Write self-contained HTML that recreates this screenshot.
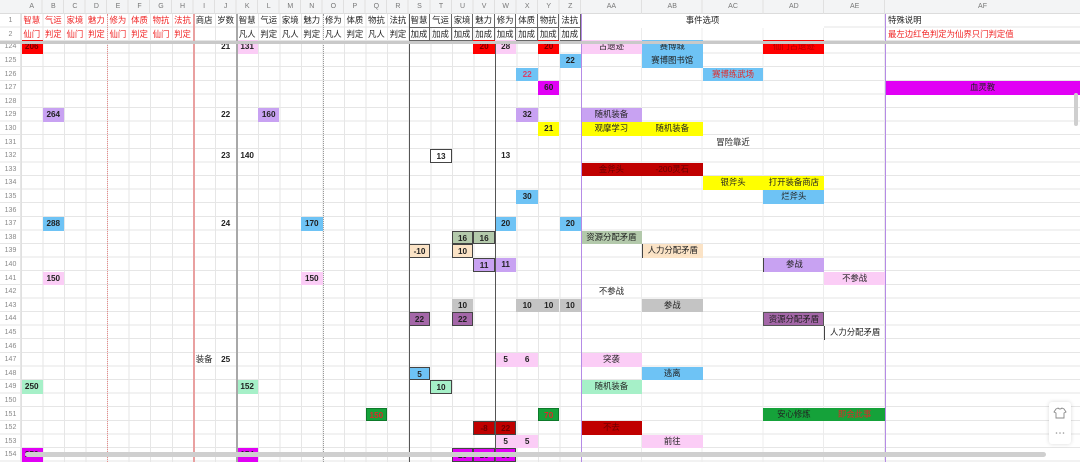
<!DOCTYPE html>
<html><head><meta charset="utf-8">
<style>
*{margin:0;padding:0}
body{width:1080px;height:462px;overflow:hidden;background:#fff;position:relative;font-family:"Liberation Sans","Noto Sans CJK SC",sans-serif;}
.abs{position:absolute}
.c{position:absolute;height:13.6px;line-height:13.6px;text-align:center;font-size:8.4px;color:#222;box-sizing:border-box;white-space:nowrap;overflow:hidden}
.n{font-weight:bold;font-size:8.2px;font-family:"Liberation Sans",sans-serif}
.h1{top:14px;height:13.5px;line-height:13.5px}
.h2{top:27.5px;height:13.5px;line-height:13.5px}
.rd{color:#f02424}
.rn{position:absolute;left:0;width:21px;height:13.6px;line-height:13.6px;text-align:center;font-size:7px;color:#888}
.cl{position:absolute;top:0;height:14px;line-height:14px;text-align:center;font-size:7px;color:#777}
.bx{border:1px solid #444}
.A{left:21px;width:21.54px}.B{left:42.54px;width:21.54px}.C{left:64.08px;width:21.54px}.D{left:85.62px;width:21.54px}
.E{left:107.16px;width:21.54px}.F{left:128.7px;width:21.54px}.G{left:150.24px;width:21.54px}.H{left:171.78px;width:21.54px}
.I{left:193.32px;width:21.54px}.J{left:214.86px;width:21.54px}.K{left:236.4px;width:21.54px}.L{left:257.94px;width:21.54px}
.M{left:279.48px;width:21.54px}.N{left:301.02px;width:21.54px}.O{left:322.56px;width:21.54px}.P{left:344.1px;width:21.54px}
.Q{left:365.64px;width:21.54px}.R{left:387.18px;width:21.54px}.S{left:408.72px;width:21.54px}.T{left:430.26px;width:21.54px}
.U{left:451.8px;width:21.54px}.V{left:473.34px;width:21.54px}.W{left:494.88px;width:21.54px}.X{left:516.42px;width:21.54px}
.Y{left:537.96px;width:21.54px}.Z{left:559.5px;width:21.54px}
.AA{left:581.04px;width:60.8px}.AB{left:641.84px;width:60.8px}.AC{left:702.64px;width:60.8px}.AD{left:763.44px;width:60.8px}
.AE{left:824.24px;width:60.8px}.AF{left:885.04px;width:195px}
.r124{top:40.4px}.r125{top:54px}.r126{top:67.6px}.r127{top:81.2px}.r128{top:94.8px}.r129{top:108.4px}.r130{top:122px}
.r131{top:135.6px}.r132{top:149.2px}.r133{top:162.8px}.r134{top:176.4px}.r135{top:190px}.r136{top:203.6px}.r137{top:217.2px}
.r138{top:230.8px}.r139{top:244.4px}.r140{top:258px}.r141{top:271.6px}.r142{top:285.2px}.r143{top:298.8px}.r144{top:312.4px}
.r145{top:326px}.r146{top:339.6px}.r147{top:353.2px}.r148{top:366.8px}.r149{top:380.4px}.r150{top:394px}.r151{top:407.6px}
.r152{top:421.2px}.r153{top:434.8px}.r154{top:448.4px}
.red{background:#ff0000;color:#700}
.dred{background:#c00000;color:#6a0000}
.pk{background:#fbcdf6}
.bl{background:#6ec3f5}
.pu{background:#c8a2f2}
.mg{background:#e100f5}
.ye{background:#ffff00}
.sg{background:#b3c9ab}
.pe{background:#fbe3c6}
.gy{background:#c4c4c4}
.dp{background:#a467a8}
.mt{background:#a6f0c8}
.gr{background:#15a23a}
.tr{color:#e02828}
.hb{border-right:1px solid #666;border-bottom:1px solid #666}
</style></head><body>

<!-- column letter header -->
<div class="abs" style="left:0;top:0;width:1080px;height:14px;background:#f3f4f5;border-bottom:1px solid #dcdcdc;box-sizing:border-box"></div>
<div class="abs" style="left:21px;top:0;width:560px;height:14px;background:repeating-linear-gradient(to right,transparent 0,transparent 20.54px,#e0e0e0 20.54px,#e0e0e0 21.54px)"></div>
<div class="abs" style="left:581px;top:0;width:304px;height:14px;background:repeating-linear-gradient(to right,transparent 0,transparent 59.8px,#e0e0e0 59.8px,#e0e0e0 60.8px)"></div>
<div class="cl A">A</div><div class="cl B">B</div><div class="cl C">C</div><div class="cl D">D</div><div class="cl E">E</div><div class="cl F">F</div><div class="cl G">G</div><div class="cl H">H</div><div class="cl I">I</div><div class="cl J">J</div><div class="cl K">K</div><div class="cl L">L</div><div class="cl M">M</div><div class="cl N">N</div><div class="cl O">O</div><div class="cl P">P</div><div class="cl Q">Q</div><div class="cl R">R</div><div class="cl S">S</div><div class="cl T">T</div><div class="cl U">U</div><div class="cl V">V</div><div class="cl W">W</div><div class="cl X">X</div><div class="cl Y">Y</div><div class="cl Z">Z</div><div class="cl AA">AA</div><div class="cl AB">AB</div><div class="cl AC">AC</div><div class="cl AD">AD</div><div class="cl AE">AE</div><div class="cl AF">AF</div>

<!-- grid lines -->
<div class="abs" style="left:0;top:14px;width:1080px;height:27px;background:repeating-linear-gradient(to bottom,transparent 0,transparent 12.5px,#e6e6e6 12.5px,#e6e6e6 13.5px)"></div>
<div class="abs" style="left:0;top:40.4px;width:1080px;height:422px;background:repeating-linear-gradient(to bottom,transparent 0,transparent 12.6px,#e6e6e6 12.6px,#e6e6e6 13.6px)"></div>
<div class="abs" style="left:20px;top:14px;width:561px;height:448px;background:repeating-linear-gradient(to right,#e6e6e6 0,#e6e6e6 1px,transparent 1px,transparent 21.54px);background-position:1px 0"></div>
<div class="abs" style="left:581px;top:14px;width:304px;height:448px;background:repeating-linear-gradient(to right,transparent 0,transparent 59.8px,#ececec 59.8px,#ececec 60.8px)"></div>

<!-- row numbers -->
<div class="rn h1">1</div><div class="rn h2">2</div>
<div class="rn r124">124</div><div class="rn r125">125</div><div class="rn r126">126</div><div class="rn r127">127</div><div class="rn r128">128</div><div class="rn r129">129</div><div class="rn r130">130</div><div class="rn r131">131</div><div class="rn r132">132</div><div class="rn r133">133</div><div class="rn r134">134</div><div class="rn r135">135</div><div class="rn r136">136</div><div class="rn r137">137</div><div class="rn r138">138</div><div class="rn r139">139</div><div class="rn r140">140</div><div class="rn r141">141</div><div class="rn r142">142</div><div class="rn r143">143</div><div class="rn r144">144</div><div class="rn r145">145</div><div class="rn r146">146</div><div class="rn r147">147</div><div class="rn r148">148</div><div class="rn r149">149</div><div class="rn r150">150</div><div class="rn r151">151</div><div class="rn r152">152</div><div class="rn r153">153</div><div class="rn r154">154</div>

<!-- header row 1 -->
<div class="c h1 A rd">智慧</div><div class="c h1 B rd">气运</div><div class="c h1 C rd">家境</div><div class="c h1 D rd">魅力</div><div class="c h1 E rd">修为</div><div class="c h1 F rd">体质</div><div class="c h1 G rd">物抗</div><div class="c h1 H rd">法抗</div>
<div class="c h1 I">商店</div><div class="c h1 J">岁数</div><div class="c h1 K">智慧</div><div class="c h1 L">气运</div><div class="c h1 M">家境</div><div class="c h1 N">魅力</div><div class="c h1 O">修为</div><div class="c h1 P">体质</div><div class="c h1 Q">物抗</div><div class="c h1 R">法抗</div>
<div class="c h1 S hb" style="background:#fff">智慧</div><div class="c h1 T hb" style="background:#fff">气运</div><div class="c h1 U hb" style="background:#fff">家境</div><div class="c h1 V hb" style="background:#fff">魅力</div><div class="c h1 W hb" style="background:#fff">修为</div><div class="c h1 X hb" style="background:#fff">体质</div><div class="c h1 Y hb" style="background:#fff">物抗</div><div class="c h1 Z hb" style="background:#fff">法抗</div>
<div class="c h1" style="left:581px;width:243px;background:#fff">事件选项</div>
<div class="c h1 AF" style="text-align:left;padding-left:3px">特殊说明</div>
<!-- header row 2 -->
<div class="c h2 A rd">仙门</div><div class="c h2 B rd">判定</div><div class="c h2 C rd">仙门</div><div class="c h2 D rd">判定</div><div class="c h2 E rd">仙门</div><div class="c h2 F rd">判定</div><div class="c h2 G rd">仙门</div><div class="c h2 H rd">判定</div>
<div class="c h2 K">凡人</div><div class="c h2 L">判定</div><div class="c h2 M">凡人</div><div class="c h2 N">判定</div><div class="c h2 O">凡人</div><div class="c h2 P">判定</div><div class="c h2 Q">凡人</div><div class="c h2 R">判定</div>
<div class="c h2 S hb">加成</div><div class="c h2 T hb">加成</div><div class="c h2 U hb">加成</div><div class="c h2 V hb">加成</div><div class="c h2 W hb">加成</div><div class="c h2 X hb">加成</div><div class="c h2 Y hb">加成</div><div class="c h2 Z hb">加成</div>
<div class="c h2 AF rd" style="text-align:left;padding-left:3px">最左边红色判定为仙界只门判定值</div>

<!-- body cells -->
<!-- 124 -->
<div class="c n r124 A red">206</div><div class="c n r124 J">21</div><div class="c n r124 K pk">131</div><div class="c n r124 V red">20</div><div class="c n r124 W pk">28</div><div class="c n r124 Y red">20</div>
<div class="c r124 AA pk">古遗迹</div><div class="c r124 AB bl">赛博城</div><div class="c r124 AD red" style="color:#b00000">仙门古遗迹</div>
<!-- 125 -->
<div class="c n r125 Z bl">22</div><div class="c r125 AB bl">赛博图书馆</div>
<!-- 126 -->
<div class="c n r126 X bl" style="color:#d8406a">22</div><div class="c r126 AC bl tr">赛博练武场</div>
<!-- 127 -->
<div class="c n r127 Y mg">60</div><div class="c r127 AF mg">血灵教</div>
<!-- 129 -->
<div class="c n r129 B pu">264</div><div class="c n r129 J">22</div><div class="c n r129 L pu">160</div><div class="c n r129 X pu">32</div><div class="c r129 AA pu">随机装备</div>
<!-- 130 -->
<div class="c n r130 Y ye">21</div><div class="c r130 AA ye">观摩学习</div><div class="c r130 AB ye">随机装备</div>
<!-- 131 -->
<div class="c r131 AC">冒险靠近</div>
<!-- 132 -->
<div class="c n r132 J">23</div><div class="c n r132 K">140</div><div class="c n r132 T bx" style="background:#fff">13</div><div class="c n r132 W">13</div>
<!-- 133 -->
<div class="c r133 AA dred">金斧头</div><div class="c r133 AB dred">-200灵石</div>
<!-- 134 -->
<div class="c r134 AC ye">银斧头</div><div class="c r134 AD ye">打开装备商店</div>
<!-- 135 -->
<div class="c n r135 X bl">30</div><div class="c r135 AD bl">烂斧头</div>
<!-- 137 -->
<div class="c n r137 B bl">288</div><div class="c n r137 J">24</div><div class="c n r137 N bl">170</div><div class="c n r137 W bl">20</div><div class="c n r137 Z bl">20</div>
<!-- 138 -->
<div class="c n r138 U sg bx">16</div><div class="c n r138 V sg bx">16</div><div class="c r138 AA sg">资源分配矛盾</div>
<!-- 139 -->
<div class="c n r139 S pe bx">-10</div><div class="c n r139 U pe bx">10</div><div class="c r139 AB pe" style="border-left:1px solid #444">人力分配矛盾</div>
<!-- 140 -->
<div class="c n r140 V pu bx">11</div><div class="c n r140 W pu">11</div><div class="c r140 AD pu" style="border-left:1px solid #444">参战</div>
<!-- 141 -->
<div class="c n r141 B pk">150</div><div class="c n r141 N pk">150</div><div class="c r141 AE pk">不参战</div>
<!-- 142 -->
<div class="c r142 AA">不参战</div>
<!-- 143 -->
<div class="c n r143 U gy">10</div><div class="c n r143 X gy">10</div><div class="c n r143 Y gy">10</div><div class="c n r143 Z gy">10</div><div class="c r143 AB gy">参战</div>
<!-- 144 -->
<div class="c n r144 S dp bx">22</div><div class="c n r144 U dp bx">22</div><div class="c r144 AD dp" style="border:1px solid #555">资源分配矛盾</div>
<!-- 145 -->
<div class="c r145 AE" style="border-left:1px solid #444">人力分配矛盾</div>
<!-- 147 -->
<div class="c r147 I">装备</div><div class="c n r147 J">25</div><div class="c n r147 W pk">5</div><div class="c n r147 X pk">6</div><div class="c r147 AA pk">突袭</div>
<!-- 148 -->
<div class="c n r148 S bl bx">5</div><div class="c r148 AB bl">逃离</div>
<!-- 149 -->
<div class="c n r149 A mt">250</div><div class="c n r149 K mt">152</div><div class="c n r149 T mt bx">10</div><div class="c r149 AA mt">随机装备</div>
<!-- 151 -->
<div class="c n r151 Q gr tr" style="border:1px solid #0d7a2a">150</div><div class="c n r151 Y gr tr" style="border:1px solid #0d7a2a">70</div><div class="c r151 AD gr">安心修炼</div><div class="c r151 AE gr tr">即会此事</div>
<!-- 152 -->
<div class="c n r152 V dred bx">-8</div><div class="c n r152 W dred bx">22</div><div class="c r152 AA dred">不去</div>
<!-- 153 -->
<div class="c n r153 W pk">5</div><div class="c n r153 X pk">5</div><div class="c r153 AB pk">前往</div>
<!-- 154 -->
<div class="c n r154 A mg">250</div><div class="c n r154 K mg">154</div><div class="c n r154 U mg bx">20</div><div class="c n r154 V mg bx">10</div><div class="c n r154 W mg bx">30</div>

<!-- special vertical lines -->
<div class="abs" style="left:107px;top:14px;height:448px;border-left:1px dotted #e88a8a"></div>
<div class="abs" style="left:193px;top:14px;width:1.5px;height:448px;background:#e9a0a0"></div>
<div class="abs" style="left:236px;top:14px;width:2px;height:448px;background:#a8a8a8"></div>
<div class="abs" style="left:322.5px;top:14px;height:448px;border-left:1px dotted #9a9a9a"></div>
<div class="abs" style="left:408.5px;top:14px;width:1px;height:448px;background:#555"></div>
<div class="abs" style="left:494.5px;top:41px;width:1px;height:421px;background:#555"></div>
<div class="abs" style="left:580.5px;top:14px;width:1px;height:448px;background:#b58be6"></div>
<div class="abs" style="left:884.5px;top:14px;width:1px;height:448px;background:#b58be6"></div>
<div class="abs" style="left:20.5px;top:14px;width:1px;height:448px;background:#e0e0e0"></div>

<!-- frozen separator -->
<div class="abs" style="left:0;top:41px;width:1080px;height:3px;background:#c9c9c9"></div>

<!-- scrollbars -->
<div class="abs" style="left:1074px;top:93px;width:4px;height:33px;background:#cfcfcf;border-radius:2px"></div>
<div class="abs" style="left:25px;top:452px;width:1021px;height:5px;background:#cfcfcf;border-radius:3px"></div>

<!-- floating buttons -->
<div class="abs" style="left:1049px;top:402px;width:22px;height:42px;background:#fff;border-radius:3px;box-shadow:0 0 4px rgba(0,0,0,0.15)">
<svg width="22" height="42" viewBox="0 0 22 42"><path d="M7 7 L9 6 Q11 8 13 6 L15 7 L17 10 L15 11 L15 16 L7 16 L7 11 L5 10 Z" fill="none" stroke="#888" stroke-width="0.9"/><circle cx="7.5" cy="31" r="0.8" fill="#999"/><circle cx="11" cy="31" r="0.8" fill="#999"/><circle cx="14.5" cy="31" r="0.8" fill="#999"/></svg>
</div>
</body></html>
